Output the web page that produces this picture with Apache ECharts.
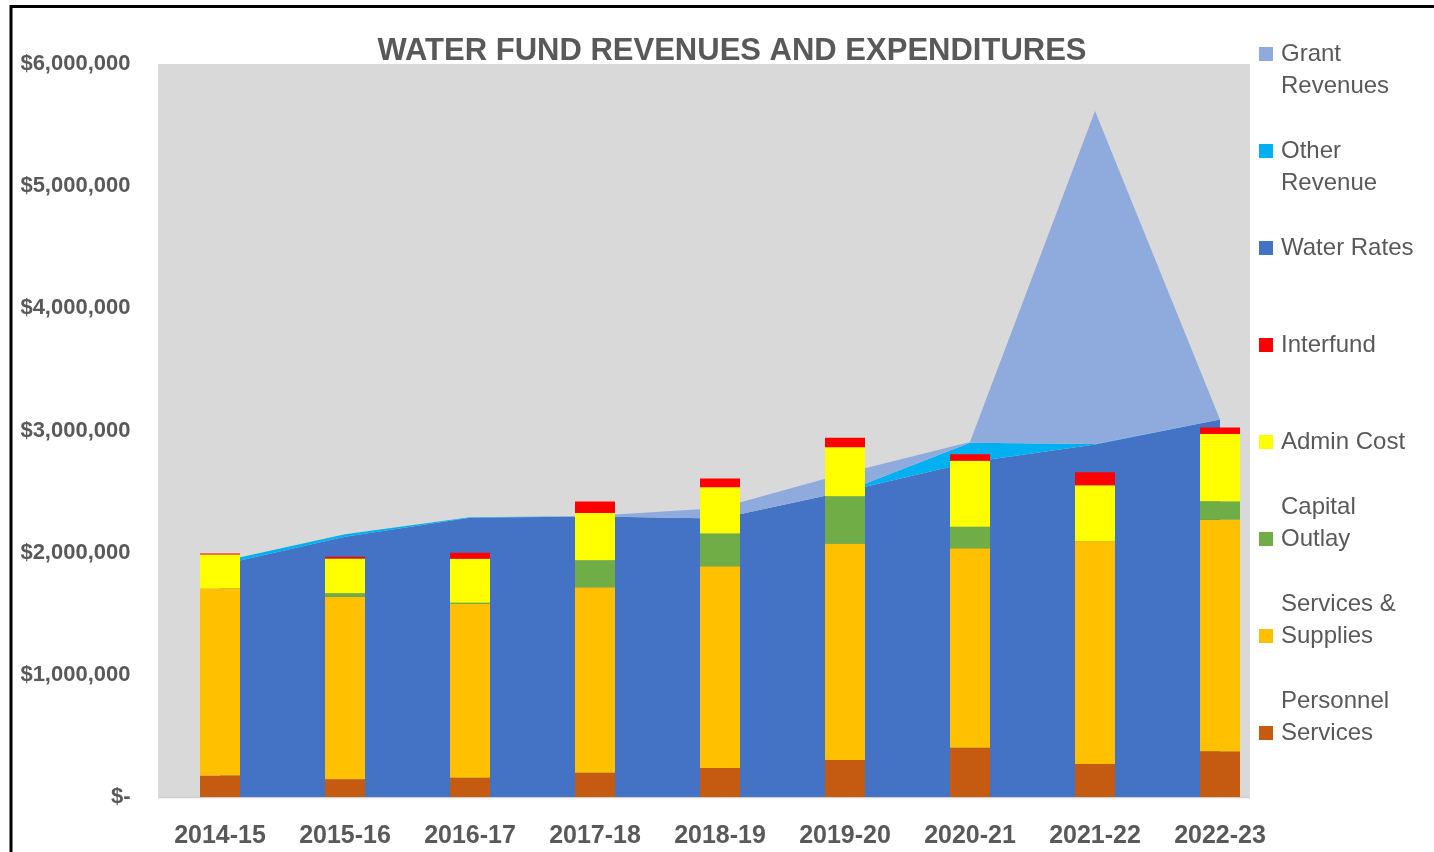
<!DOCTYPE html>
<html>
<head>
<meta charset="utf-8">
<title>Water Fund Revenues and Expenditures</title>
<script src="https://cdn.jsdelivr.net/npm/echarts@6/dist/echarts.min.js"></script>
<style>
    html, body { margin: 0; padding: 0; background: #fff; }
    #chart { width: 1434px; height: 852px; }
</style>
</head>
<body>
<div id="chart"></div>
<script>
    // fiscal years
    var years = ['2014-15', '2015-16', '2016-17', '2017-18', '2018-19', '2019-20', '2020-21', '2021-22', '2022-23'];

    // revenues (stacked areas)
    var waterRates   = [1900000, 2130000, 2285000, 2297000, 2280000, 2500000, 2740000, 2885000, 3090000];
    var otherRevenue = [25000, 20000, 5000, 0, 0, 0, 160000, 5000, 0];
    var grantRevenue = [0, 0, 0, 5000, 85000, 150000, 5000, 2725000, 0];

    // expenditures (stacked bars)
    var personnel = [175000, 145000, 158000, 199000, 238000, 303000, 403000, 271000, 374000];
    var services  = [1533000, 1494000, 1421000, 1517000, 1650000, 1773000, 1633000, 1822000, 1896000];
    var capital   = [0, 28000, 11000, 221000, 268000, 385000, 177000, 0, 150000];
    var admin     = [278000, 286000, 361000, 388000, 379000, 402000, 539000, 459000, 551000];
    var interfund = [8000, 14000, 49000, 93000, 72000, 77000, 53000, 106000, 53000];

    var yTicks = [0, 1000000, 2000000, 3000000, 4000000, 5000000, 6000000];

    var font = 'Liberation Sans';
    var grey = '#595959';

    // how each legend entry wraps; the blank line decides which line the square sits on
    var legendText = {
        'Grant Revenues': ' \nGrant\nRevenues',
        'Other Revenue': ' \nOther\nRevenue',
        'Water Rates': ' \nWater Rates\n ',
        'Interfund': ' \nInterfund\n ',
        'Admin Cost': ' \nAdmin Cost\n ',
        'Capital Outlay': 'Capital\nOutlay\n ',
        'Services & Supplies': 'Services &\nSupplies\n ',
        'Personnel Services': 'Personnel\nServices\n '
    };

    function money(v) {
        if (v === 0) return '$-';
        return '$' + v.toLocaleString('en-US');
    }

    function area(name, data, color) {
        return {
            name: name,
            type: 'line',
            stack: 'rev',
            data: data,
            symbol: 'none',
            z: 1,
            lineStyle: { width: 0 },
            areaStyle: { color: color, opacity: 1 },
            itemStyle: { color: color }
        };
    }

    function bar(name, data, color) {
        return {
            name: name,
            type: 'bar',
            stack: 'exp',
            data: data,
            barWidth: 40,
            z: 3,
            itemStyle: { color: color }
        };
    }

    var chart = echarts.init(document.getElementById('chart'));

    var lh = 32;

    chart.setOption({
        animation: false,
        backgroundColor: '#ffffff',
        title: {
            text: 'WATER FUND REVENUES AND EXPENDITURES',
            left: 727,
            textAlign: 'center',
            top: 31,
            textStyle: { fontFamily: font, fontSize: 31, fontWeight: 'bold', color: grey }
        },
        grid: {
            left: 157.5,
            right: 151.5,
            top: 64,
            bottom: 55
        },
        legend: {
            orient: 'vertical',
            left: 1259,
            top: 54 - lh * 1.5,
            padding: 0,
            itemWidth: 14,
            itemHeight: 14,
            itemGap: 97 - lh * 3,
            selectedMode: false,
            icon: 'rect',
            textStyle: { fontFamily: font, fontSize: 24, color: grey, lineHeight: lh, padding: [0, 0, 0, 3] },
            formatter: function (name) { return legendText[name]; },
            data: ['Grant Revenues', 'Other Revenue', 'Water Rates', 'Interfund',
                   'Admin Cost', 'Capital Outlay', 'Services & Supplies', 'Personnel Services']
        },
        xAxis: {
            type: 'category',
            data: years,
            boundaryGap: true,
            axisLine: { show: false },
            axisTick: { show: false },
            axisLabel: { fontFamily: font, fontSize: 25, fontWeight: 'bold', color: grey, margin: 27 }
        },
        yAxis: {
            type: 'value',
            min: yTicks[0],
            max: yTicks[yTicks.length - 1],
            interval: yTicks[1] - yTicks[0],
            splitLine: { show: false },
            axisLine: { show: false },
            axisTick: { show: false },
            axisLabel: {
                fontFamily: font, fontSize: 22, fontWeight: 'bold', color: grey, margin: 27,
                formatter: money
            }
        },
        series: [
            area('Water Rates', waterRates, '#4472C4'),
            area('Other Revenue', otherRevenue, '#00B0F0'),
            area('Grant Revenues', grantRevenue, '#8FAADC'),
            bar('Personnel Services', personnel, '#C55A11'),
            bar('Services & Supplies', services, '#FFC000'),
            bar('Capital Outlay', capital, '#70AD47'),
            bar('Admin Cost', admin, '#FFFF00'),
            bar('Interfund', interfund, '#FF0000')
        ],
        graphic: [
            // plot area fill stops short of the last category's right edge, as in the original
            { type: 'rect', z: -10, shape: { x: 158, y: 64, width: 1092, height: 733 }, style: { fill: '#D9D9D9' } },
            { type: 'line', z: -10, shape: { x1: 158, y1: 797.5, x2: 1250, y2: 797.5 }, style: { stroke: '#D0D0D0', lineWidth: 1.5 } },
            { type: 'line', shape: { x1: 11, y1: 6.5, x2: 1434, y2: 6.5 }, style: { stroke: '#000', lineWidth: 3 } },
            { type: 'line', shape: { x1: 11, y1: 5, x2: 11, y2: 852 }, style: { stroke: '#000', lineWidth: 3 } }
        ]
    });
</script>
</body>
</html>
